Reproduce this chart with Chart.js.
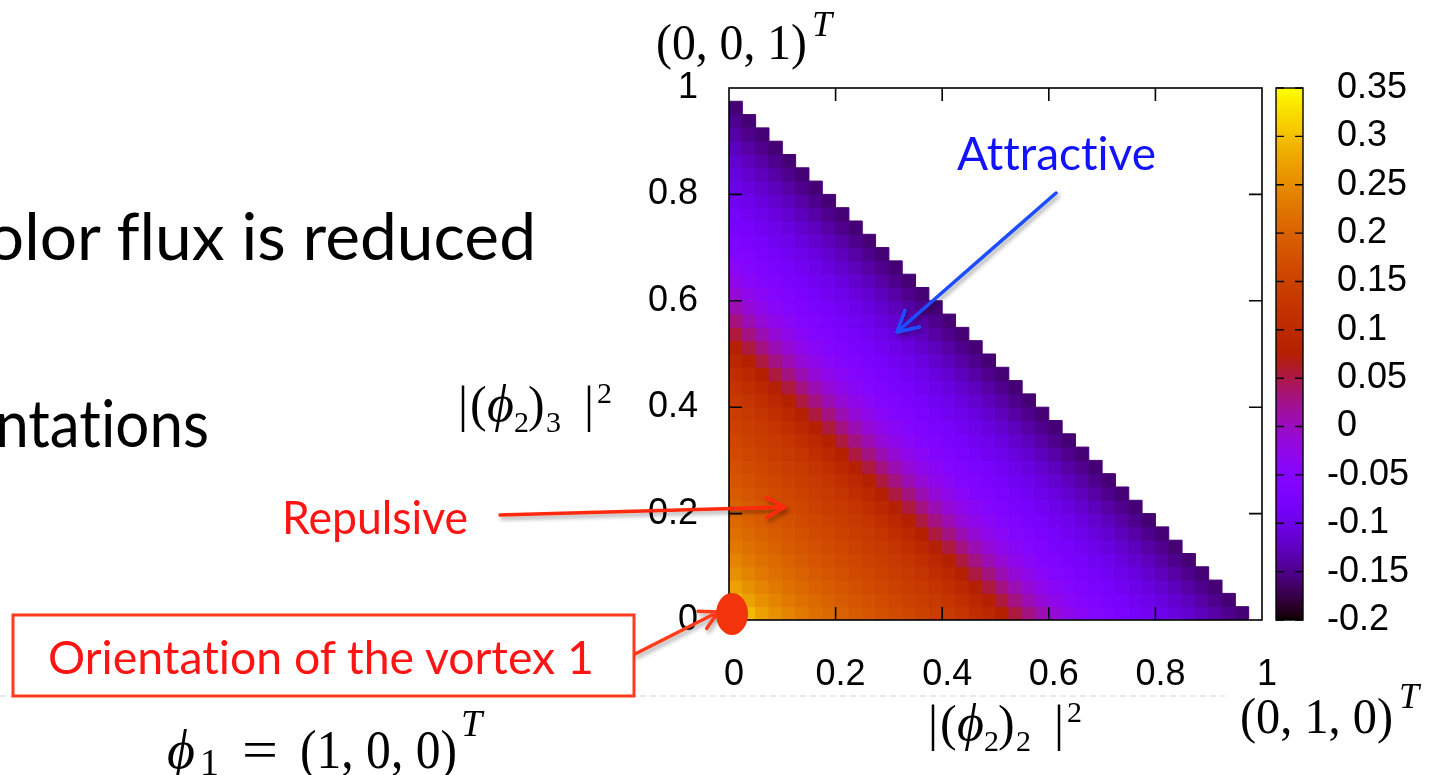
<!DOCTYPE html>
<html>
<head>
<meta charset="utf-8">
<script src="https://cdn.jsdelivr.net/npm/chart.js@4.4.0/dist/chart.umd.min.js"></script>
<style>
  html, body { margin: 0; padding: 0; background: #fff; overflow: hidden; }
  #wrap { position: relative; width: 1443px; height: 775px; }
  #plot { position: absolute; left: 0; top: 0; }
  #notes { position: absolute; left: 0; top: 0; }
  .slide { font-family: Lato, 'Open Sans', sans-serif; font-variant-ligatures: none; font-feature-settings: "liga" 0, "clig" 0; }
</style>
</head>
<body>
<div id="wrap">
  <canvas id="plot" width="1443" height="775"></canvas>
  <svg id="notes" width="1443" height="775" xmlns="http://www.w3.org/2000/svg">
    <defs>
      <filter id="shadow" x="-30%" y="-30%" width="160%" height="160%">
        <feDropShadow dx="2" dy="3" stdDeviation="2" flood-color="#000" flood-opacity="0.35"/>
      </filter>
    </defs>
    <line x1="0" y1="696" x2="1225" y2="696" stroke="#cfd6e0" stroke-width="1" stroke-dasharray="6,4"/>
    <g class="slide">
      <text x="536" y="260" text-anchor="end" font-size="65" textLength="580" lengthAdjust="spacingAndGlyphs">color flux is reduced</text>
      <text x="209" y="447" text-anchor="end" font-size="65" textLength="316" lengthAdjust="spacingAndGlyphs">orientations</text>
      <text x="282" y="534" font-size="47" fill="#ff1414" textLength="186" lengthAdjust="spacingAndGlyphs">Repulsive</text>
      <text x="957" y="170" font-size="47" fill="#1212ff" textLength="199" lengthAdjust="spacingAndGlyphs">Attractive</text>
      <rect x="13" y="615" width="621" height="81" fill="none" stroke="#ff3a1e" stroke-width="3"/>
      <text x="48" y="674" font-size="47" fill="#ff1414" textLength="546" lengthAdjust="spacingAndGlyphs">Orientation of the vortex 1</text>
    </g>
    <g font-family="'Liberation Serif', 'DejaVu Serif', serif" fill="#000">
      <text x="656" y="59" font-size="50" textLength="151" lengthAdjust="spacingAndGlyphs">(0, 0, 1)</text>
      <text x="812" y="36" font-size="36" font-style="italic">T</text>

      <text x="1240" y="733" font-size="50" textLength="153" lengthAdjust="spacingAndGlyphs">(0, 1, 0)</text>
      <text x="1399" y="708" font-size="36" font-style="italic">T</text>

      <text x="167" y="768" font-size="54" font-style="italic">&#x3D5;</text>
      <text x="200" y="775" font-size="38">1</text>
      <text x="242" y="768" font-size="54" textLength="36" lengthAdjust="spacingAndGlyphs">=</text>
      <text x="300" y="768" font-size="54" textLength="157" lengthAdjust="spacingAndGlyphs">(1, 0, 0)</text>
      <text x="461" y="736" font-size="38" font-style="italic">T</text>

      <text x="458" y="421" font-size="50">|</text>
      <text x="470" y="421" font-size="50">(</text>
      <text x="487" y="421" font-size="52" font-style="italic">&#x3D5;</text>
      <text x="514" y="432" font-size="30">2</text>
      <text x="528" y="421" font-size="50">)</text>
      <text x="546" y="432" font-size="30">3</text>
      <text x="584" y="421" font-size="50">|</text>
      <text x="597" y="403" font-size="30">2</text>

      <text x="928" y="740" font-size="50">|</text>
      <text x="940" y="740" font-size="50">(</text>
      <text x="957" y="740" font-size="52" font-style="italic">&#x3D5;</text>
      <text x="984" y="751" font-size="30">2</text>
      <text x="998" y="740" font-size="50">)</text>
      <text x="1016" y="751" font-size="30">2</text>
      <text x="1054" y="740" font-size="50">|</text>
      <text x="1067" y="722" font-size="30">2</text>
    </g>
    <g id="arrows"></g>
    <ellipse cx="732" cy="614" rx="16" ry="21" fill="#f2330c"/>
  </svg>
</div>
<script>
// axis ticks
const xTicks = [0, 0.2, 0.4, 0.6, 0.8, 1];
const yTicks = [0, 0.2, 0.4, 0.6, 0.8, 1];
// colour bar
const cbMin = -0.2;
const cbMax = 0.35;
const cbTicks = [-0.2, -0.15, -0.1, -0.05, 0, 0.05, 0.1, 0.15, 0.2, 0.25, 0.3, 0.35];
// grid of cells, bin width in both directions
const binStep = 0.025;
// zRows[j][i] : value of cell (i, j), row j = bottom to top, only cells below the diagonal
const zRows = [
  [0.322, 0.296, 0.272, 0.256, 0.242, 0.229, 0.218, 0.208, 0.199, 0.19, 0.182, 0.174, 0.166, 0.158, 0.15, 0.142, 0.133, 0.123, 0.111, 0.096, 0.077, 0.053, 0.028, 0.007, -0.012, -0.028, -0.041, -0.052, -0.062, -0.071, -0.08, -0.089, -0.098, -0.107, -0.117, -0.127, -0.138, -0.149, -0.158],
  [0.296, 0.272, 0.256, 0.242, 0.229, 0.218, 0.208, 0.199, 0.19, 0.182, 0.174, 0.166, 0.158, 0.15, 0.142, 0.133, 0.123, 0.111, 0.096, 0.077, 0.053, 0.028, 0.007, -0.012, -0.028, -0.041, -0.052, -0.062, -0.071, -0.08, -0.089, -0.098, -0.107, -0.117, -0.127, -0.138, -0.149, -0.158],
  [0.272, 0.256, 0.242, 0.229, 0.218, 0.208, 0.199, 0.19, 0.182, 0.174, 0.166, 0.158, 0.15, 0.142, 0.133, 0.123, 0.111, 0.096, 0.077, 0.053, 0.028, 0.007, -0.012, -0.028, -0.041, -0.052, -0.062, -0.071, -0.08, -0.089, -0.098, -0.107, -0.117, -0.127, -0.138, -0.149, -0.158],
  [0.256, 0.242, 0.229, 0.218, 0.208, 0.199, 0.19, 0.182, 0.174, 0.166, 0.158, 0.15, 0.142, 0.133, 0.123, 0.111, 0.096, 0.077, 0.053, 0.028, 0.007, -0.012, -0.028, -0.041, -0.052, -0.062, -0.071, -0.08, -0.089, -0.098, -0.107, -0.117, -0.127, -0.138, -0.149, -0.158],
  [0.242, 0.229, 0.218, 0.208, 0.199, 0.19, 0.182, 0.174, 0.166, 0.158, 0.15, 0.142, 0.133, 0.123, 0.111, 0.096, 0.077, 0.053, 0.028, 0.007, -0.012, -0.028, -0.041, -0.052, -0.062, -0.071, -0.08, -0.089, -0.098, -0.107, -0.117, -0.127, -0.138, -0.149, -0.158],
  [0.229, 0.218, 0.208, 0.199, 0.19, 0.182, 0.174, 0.166, 0.158, 0.15, 0.142, 0.133, 0.123, 0.111, 0.096, 0.077, 0.053, 0.028, 0.007, -0.012, -0.028, -0.041, -0.052, -0.062, -0.071, -0.08, -0.089, -0.098, -0.107, -0.117, -0.127, -0.138, -0.149, -0.158],
  [0.218, 0.208, 0.199, 0.19, 0.182, 0.174, 0.166, 0.158, 0.15, 0.142, 0.133, 0.123, 0.111, 0.096, 0.077, 0.053, 0.028, 0.007, -0.012, -0.028, -0.041, -0.052, -0.062, -0.071, -0.08, -0.089, -0.098, -0.107, -0.117, -0.127, -0.138, -0.149, -0.158],
  [0.208, 0.199, 0.19, 0.182, 0.174, 0.166, 0.158, 0.15, 0.142, 0.133, 0.123, 0.111, 0.096, 0.077, 0.053, 0.028, 0.007, -0.012, -0.028, -0.041, -0.052, -0.062, -0.071, -0.08, -0.089, -0.098, -0.107, -0.117, -0.127, -0.138, -0.149, -0.158],
  [0.199, 0.19, 0.182, 0.174, 0.166, 0.158, 0.15, 0.142, 0.133, 0.123, 0.111, 0.096, 0.077, 0.053, 0.028, 0.007, -0.012, -0.028, -0.041, -0.052, -0.062, -0.071, -0.08, -0.089, -0.098, -0.107, -0.117, -0.127, -0.138, -0.149, -0.158],
  [0.19, 0.182, 0.174, 0.166, 0.158, 0.15, 0.142, 0.133, 0.123, 0.111, 0.096, 0.077, 0.053, 0.028, 0.007, -0.012, -0.028, -0.041, -0.052, -0.062, -0.071, -0.08, -0.089, -0.098, -0.107, -0.117, -0.127, -0.138, -0.149, -0.158],
  [0.182, 0.174, 0.166, 0.158, 0.15, 0.142, 0.133, 0.123, 0.111, 0.096, 0.077, 0.053, 0.028, 0.007, -0.012, -0.028, -0.041, -0.052, -0.062, -0.071, -0.08, -0.089, -0.098, -0.107, -0.117, -0.127, -0.138, -0.149, -0.158],
  [0.174, 0.166, 0.158, 0.15, 0.142, 0.133, 0.123, 0.111, 0.096, 0.077, 0.053, 0.028, 0.007, -0.012, -0.028, -0.041, -0.052, -0.062, -0.071, -0.08, -0.089, -0.098, -0.107, -0.117, -0.127, -0.138, -0.149, -0.158],
  [0.166, 0.158, 0.15, 0.142, 0.133, 0.123, 0.111, 0.096, 0.077, 0.053, 0.028, 0.007, -0.012, -0.028, -0.041, -0.052, -0.062, -0.071, -0.08, -0.089, -0.098, -0.107, -0.117, -0.127, -0.138, -0.149, -0.158],
  [0.158, 0.15, 0.142, 0.133, 0.123, 0.111, 0.096, 0.077, 0.053, 0.028, 0.007, -0.012, -0.028, -0.041, -0.052, -0.062, -0.071, -0.08, -0.089, -0.098, -0.107, -0.117, -0.127, -0.138, -0.149, -0.158],
  [0.15, 0.142, 0.133, 0.123, 0.111, 0.096, 0.077, 0.053, 0.028, 0.007, -0.012, -0.028, -0.041, -0.052, -0.062, -0.071, -0.08, -0.089, -0.098, -0.107, -0.117, -0.127, -0.138, -0.149, -0.158],
  [0.142, 0.133, 0.123, 0.111, 0.096, 0.077, 0.053, 0.028, 0.007, -0.012, -0.028, -0.041, -0.052, -0.062, -0.071, -0.08, -0.089, -0.098, -0.107, -0.117, -0.127, -0.138, -0.149, -0.158],
  [0.133, 0.123, 0.111, 0.096, 0.077, 0.053, 0.028, 0.007, -0.012, -0.028, -0.041, -0.052, -0.062, -0.071, -0.08, -0.089, -0.098, -0.107, -0.117, -0.127, -0.138, -0.149, -0.158],
  [0.123, 0.111, 0.096, 0.077, 0.053, 0.028, 0.007, -0.012, -0.028, -0.041, -0.052, -0.062, -0.071, -0.08, -0.089, -0.098, -0.107, -0.117, -0.127, -0.138, -0.149, -0.158],
  [0.111, 0.096, 0.077, 0.053, 0.028, 0.007, -0.012, -0.028, -0.041, -0.052, -0.062, -0.071, -0.08, -0.089, -0.098, -0.107, -0.117, -0.127, -0.138, -0.149, -0.158],
  [0.096, 0.077, 0.053, 0.028, 0.007, -0.012, -0.028, -0.041, -0.052, -0.062, -0.071, -0.08, -0.089, -0.098, -0.107, -0.117, -0.127, -0.138, -0.149, -0.158],
  [0.077, 0.053, 0.028, 0.007, -0.012, -0.028, -0.041, -0.052, -0.062, -0.071, -0.08, -0.089, -0.098, -0.107, -0.117, -0.127, -0.138, -0.149, -0.158],
  [0.053, 0.028, 0.007, -0.012, -0.028, -0.041, -0.052, -0.062, -0.071, -0.08, -0.089, -0.098, -0.107, -0.117, -0.127, -0.138, -0.149, -0.158],
  [0.028, 0.007, -0.012, -0.028, -0.041, -0.052, -0.062, -0.071, -0.08, -0.089, -0.098, -0.107, -0.117, -0.127, -0.138, -0.149, -0.158],
  [0.007, -0.012, -0.028, -0.041, -0.052, -0.062, -0.071, -0.08, -0.089, -0.098, -0.107, -0.117, -0.127, -0.138, -0.149, -0.158],
  [-0.012, -0.028, -0.041, -0.052, -0.062, -0.071, -0.08, -0.089, -0.098, -0.107, -0.117, -0.127, -0.138, -0.149, -0.158],
  [-0.028, -0.041, -0.052, -0.062, -0.071, -0.08, -0.089, -0.098, -0.107, -0.117, -0.127, -0.138, -0.149, -0.158],
  [-0.041, -0.052, -0.062, -0.071, -0.08, -0.089, -0.098, -0.107, -0.117, -0.127, -0.138, -0.149, -0.158],
  [-0.052, -0.062, -0.071, -0.08, -0.089, -0.098, -0.107, -0.117, -0.127, -0.138, -0.149, -0.158],
  [-0.062, -0.071, -0.08, -0.089, -0.098, -0.107, -0.117, -0.127, -0.138, -0.149, -0.158],
  [-0.071, -0.08, -0.089, -0.098, -0.107, -0.117, -0.127, -0.138, -0.149, -0.158],
  [-0.08, -0.089, -0.098, -0.107, -0.117, -0.127, -0.138, -0.149, -0.158],
  [-0.089, -0.098, -0.107, -0.117, -0.127, -0.138, -0.149, -0.158],
  [-0.098, -0.107, -0.117, -0.127, -0.138, -0.149, -0.158],
  [-0.107, -0.117, -0.127, -0.138, -0.149, -0.158],
  [-0.117, -0.127, -0.138, -0.149, -0.158],
  [-0.127, -0.138, -0.149, -0.158],
  [-0.138, -0.149, -0.158],
  [-0.149, -0.158],
  [-0.158]
];

// gnuplot default palette (rgbformulae 7,5,15)
function palette(v) {
  const t = Math.min(1, Math.max(0, (v - cbMin) / (cbMax - cbMin)));
  const r = Math.sqrt(t);
  const g = t * t * t;
  const b = Math.max(0, Math.sin(2 * Math.PI * t));
  return "rgb(" + Math.round(r * 255) + "," + Math.round(g * 255) + "," + Math.round(b * 255) + ")";
}

const cells = [];
zRows.forEach((row, j) => {
  row.forEach((v, i) => {
    cells.push({ x: (i + 0.5) * binStep, y: (j + 0.5) * binStep, v: v });
  });
});

function cellRadius(chart) {
  const s = chart.scales.x;
  if (!s) return 9;
  return Math.abs(s.getPixelForValue(binStep) - s.getPixelForValue(0)) / Math.SQRT2;
}
function cellColor(ctx) {
  return ctx.raw ? palette(ctx.raw.v) : "#000";
}

const tickFont = { family: "'Liberation Sans', Arial, sans-serif", size: 36 };

// frame, inward ticks and the colour bar
const framePlugin = {
  id: "frame",
  afterDatasetsDraw(chart) {
    const ctx = chart.ctx;
    const a = chart.chartArea;
    const x = chart.scales.x, y = chart.scales.y, cb = chart.scales.cb;
    ctx.save();
    ctx.strokeStyle = "#000";
    ctx.lineWidth = 1.6;
    ctx.beginPath();
    xTicks.slice(1, -1).forEach((v) => {
      const px = x.getPixelForValue(v);
      ctx.moveTo(px, a.bottom); ctx.lineTo(px, a.bottom - 13);
      ctx.moveTo(px, a.top); ctx.lineTo(px, a.top + 13);
    });
    yTicks.slice(1, -1).forEach((v) => {
      const py = y.getPixelForValue(v);
      ctx.moveTo(a.left, py); ctx.lineTo(a.left + 13, py);
      ctx.moveTo(a.right, py); ctx.lineTo(a.right - 13, py);
    });
    ctx.stroke();
    ctx.strokeRect(a.left, a.top, a.right - a.left, a.bottom - a.top);

    // colour bar
    const cbL = a.right + 14, cbW = 27;
    for (let py = Math.floor(cb.top); py < cb.bottom; py++) {
      ctx.fillStyle = palette(cb.getValueForPixel(py + 0.5));
      ctx.fillRect(cbL, py, cbW, 1);
    }
    ctx.lineWidth = 1.4;
    ctx.beginPath();
    cbTicks.forEach((v) => {
      const py = cb.getPixelForValue(v);
      ctx.moveTo(cbL, py); ctx.lineTo(cbL + 8, py);
      ctx.moveTo(cbL + cbW, py); ctx.lineTo(cbL + cbW - 8, py);
    });
    ctx.stroke();
    ctx.strokeRect(cbL, cb.top, cbW, cb.bottom - cb.top);
    ctx.restore();
  }
};

new Chart(document.getElementById("plot"), {
  type: "scatter",
  data: {
    datasets: [{
      data: cells,
      pointStyle: "rect",
      pointRadius: (ctx) => cellRadius(ctx.chart),
      pointHoverRadius: (ctx) => cellRadius(ctx.chart),
      backgroundColor: cellColor,
      borderColor: cellColor,
      borderWidth: 1,
      hoverBorderWidth: 1
    }]
  },
  options: {
    responsive: false,
    animation: false,
    events: [],
    layout: { padding: { left: 629, right: 11, top: 88, bottom: 65 } },
    plugins: { legend: { display: false }, tooltip: { enabled: false } },
    scales: {
      x: {
        type: "linear", position: "bottom", min: 0, max: 1,
        afterBuildTicks: (s) => { s.ticks = xTicks.map((v) => ({ value: v })); },
        afterFit: (s) => { s.height = 90; },
        grid: { display: false, drawTicks: false },
        border: { display: false },
        ticks: { autoSkip: false, maxRotation: 0, padding: 33, labelOffset: 5, color: "#000", font: tickFont, callback: (v) => String(v) }
      },
      y: {
        type: "linear", position: "left", min: 0, max: 1,
        afterBuildTicks: (s) => { s.ticks = yTicks.map((v) => ({ value: v })); },
        afterFit: (s) => { s.width = 100; },
        grid: { display: false, drawTicks: false },
        border: { display: false },
        ticks: { autoSkip: false, padding: 31, color: "#000", font: tickFont, callback: (v) => String(v) }
      },
      cb: {
        type: "linear", position: "right", min: cbMin, max: cbMax,
        afterBuildTicks: (s) => { s.ticks = cbTicks.map((v) => ({ value: v })); },
        afterFit: (s) => { s.width = 170; },
        grid: { display: false, drawTicks: false },
        border: { display: false },
        ticks: { autoSkip: false, padding: 65, color: "#000", font: tickFont, callback: (v) => (v < 0 ? "" : " ") + String(v) }
      }
    }
  },
  plugins: [framePlugin]
});

// annotation arrows
function arrow(x1, y1, x2, y2, color, w, head) {
  const a = Math.atan2(y2 - y1, x2 - x1), s = 0.5;
  const w1 = [x2 - head * Math.cos(a - s), y2 - head * Math.sin(a - s)];
  const w2 = [x2 - head * Math.cos(a + s), y2 - head * Math.sin(a + s)];
  const p = document.createElementNS("http://www.w3.org/2000/svg", "path");
  p.setAttribute("d", "M" + x1 + "," + y1 + " L" + x2 + "," + y2 + " M" + w1 + " L" + x2 + "," + y2 + " L" + w2);
  p.setAttribute("stroke", color);
  p.setAttribute("stroke-width", w);
  p.setAttribute("fill", "none");
  p.setAttribute("stroke-linecap", "round");
  p.setAttribute("stroke-linejoin", "round");
  p.setAttribute("filter", "url(#shadow)");
  document.getElementById("arrows").appendChild(p);
}
arrow(500, 515, 785, 507, "#ff2a10", 3.5, 21);
arrow(1056, 193, 897, 332, "#1f4dff", 3.5, 23);
arrow(635, 654, 718, 612, "#ff3a1e", 3.5, 20);
</script>
</body>
</html>
